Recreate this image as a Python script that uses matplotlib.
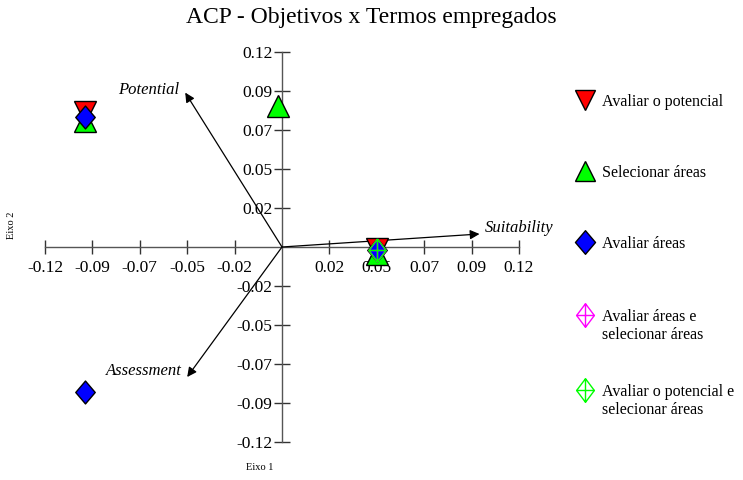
import matplotlib
matplotlib.use("Agg")
import matplotlib.pyplot as plt
from matplotlib.path import Path
from matplotlib.lines import Line2D

plt.rcParams['font.family'] = ['Liberation Serif', 'DejaVu Serif']

title = "ACP - Objetivos x Termos empregados"
series_names = ["Avaliar o potencial", "Selecionar áreas", "Avaliar áreas",
                "Avaliar áreas e\nselecionar áreas",
                "Avaliar o potencial e\nselecionar áreas"]
s1_x = [-0.0997, 0.048]
s1_y = [0.083, -0.001]
s2_x = [-0.0997, -0.002, 0.048]
s2_y = [0.0775, 0.087, -0.004]
s3_x = [-0.0997, -0.0997, 0.048]
s3_y = [0.080, -0.089, -0.002]
s4_x = [0.048]
s4_y = [-0.002]
s5_x = [0.048]
s5_y = [-0.002]

vec_names = ["Potential", "Suitability", "Assessment"]
vec_x = [-0.049, 0.100, -0.048]
vec_y = [0.095, 0.008, -0.080]

ticks = [-0.12, -0.096, -0.072, -0.048, -0.024, 0.024, 0.048, 0.072, 0.096, 0.12]
tick_labels = ["-0.12", "-0.09", "-0.07", "-0.05", "-0.02", "0.02", "0.05", "0.07", "0.09", "0.12"]

W, H = 743, 480
fig = plt.figure(figsize=(W/100, H/100), dpi=100)
ax = fig.add_axes([45/W, 38/H, 474/W, 390/H])
ax.set_xlim(-0.12, 0.12)
ax.set_ylim(-0.12, 0.12)

for s in ['top', 'right']:
    ax.spines[s].set_visible(False)
ax.spines['left'].set_position('zero')
ax.spines['bottom'].set_position('zero')
for s in ['left', 'bottom']:
    ax.spines[s].set_color('#555555')
    ax.spines[s].set_linewidth(1.0)

ax.set_xticks(ticks)
ax.set_xticklabels(tick_labels)
ax.set_yticks(ticks)
ax.set_yticklabels(tick_labels)
ax.tick_params(axis='x', direction='inout', length=10, width=1, color='#333333', labelsize=12.5, pad=4)
ax.tick_params(axis='y', direction='inout', length=12, width=1, color='#333333', labelsize=12.5, pad=1)

# diamond shapes
dia = Path([(0, 1), (0.85, 0), (0, -1), (-0.85, 0), (0, 1)],
           [Path.MOVETO, Path.LINETO, Path.LINETO, Path.LINETO, Path.CLOSEPOLY])
xdia = Path([(0, 1), (0.75, 0), (0, -1), (-0.75, 0), (0, 1),
             (0, 1), (0, -1), (-0.75, 0), (0.75, 0)],
            [Path.MOVETO, Path.LINETO, Path.LINETO, Path.LINETO, Path.LINETO,
             Path.MOVETO, Path.LINETO, Path.MOVETO, Path.LINETO])

# vectors
for name, vx, vy in zip(vec_names, vec_x, vec_y):
    ax.annotate("", xy=(vx, vy), xytext=(0, 0),
                arrowprops=dict(arrowstyle='-|>', color='black', lw=0.9,
                                mutation_scale=14, shrinkA=0, shrinkB=0))
offsets = {"Potential": (-4, 2, 'right'), "Suitability": (4, 4, 'left'), "Assessment": (-4, 4, 'right')}
for name, vx, vy in zip(vec_names, vec_x, vec_y):
    dx, dy, ha = offsets[name]
    ax.annotate(name, xy=(vx, vy), xytext=(dx, dy), textcoords='offset points',
                ha=ha, va='center', fontsize=12, style='italic')

ms = 16.5
styles = [
    dict(marker='v', markerfacecolor='#ff0000', markeredgecolor='black'),
    dict(marker='^', markerfacecolor='#00ff00', markeredgecolor='black'),
    dict(marker=dia, markerfacecolor='#0000ff', markeredgecolor='black'),
    dict(marker=xdia, markerfacecolor='none', markeredgecolor='#ff00ff'),
    dict(marker=xdia, markerfacecolor='none', markeredgecolor='#00ff00'),
]
xs = [s1_x, s2_x, s3_x, s4_x, s5_x]
ys = [s1_y, s2_y, s3_y, s4_y, s5_y]
for i, (x, y, st) in enumerate(zip(xs, ys, styles)):
    ax.plot(x, y, linestyle='none', markersize=ms, markeredgewidth=1,
            clip_on=False, zorder=3 + i, label=series_names[i], **st)

# legend (manual, first line aligned with marker)
leg_y = [100, 171, 242, 315, 390]
leg_ms = [15, 15, 17, 17, 17]
for name, st, ly, lms in zip(series_names, styles, leg_y, leg_ms):
    fig.add_artist(Line2D([585/W], [1 - ly/H], transform=fig.transFigure,
                          linestyle='none', markersize=lms, markeredgewidth=1, **st))
    fig.text(602/W, 1 - (ly - 6)/H, name, ha='left', va='top', fontsize=11.5,
             linespacing=1.15)

fig.text(0.5, 1 - 18/H, title, ha='center', va='center', fontsize=17)
fig.text(12/W, 1 - 225/H, "Eixo 2", rotation=90, ha='center', va='center', fontsize=7.5)
fig.text(260/W, 1 - 467/H, "Eixo 1", ha='center', va='center', fontsize=7.5)

fig.savefig("out.png", dpi=100)
